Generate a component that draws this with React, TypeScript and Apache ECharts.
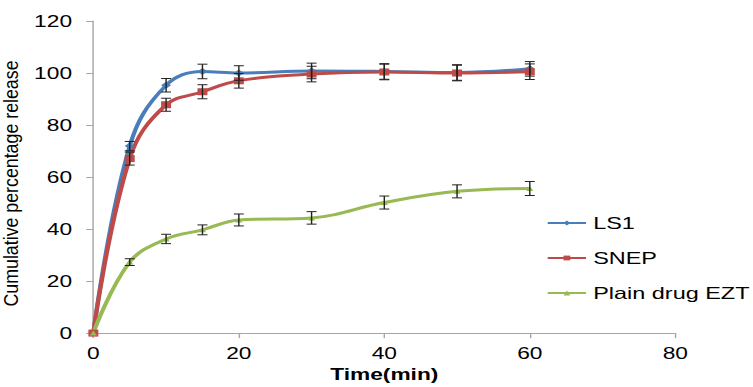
import React, { useEffect, useRef } from "react";
import * as echarts from "echarts";

const times = [0, 5, 10, 15, 20, 30, 40, 50, 60];
const ls1 = [0, 71.9, 95.3, 100.6, 100.0, 100.8, 100.6, 100.2, 101.6];
const ls1Err = [0, 1.8, 2.6, 2.8, 2.8, 3.0, 3.0, 3.0, 2.8];
const snep = [0, 67.1, 87.8, 92.8, 97.0, 99.6, 100.4, 100.0, 100.5];
const snepErr = [0, 2.5, 2.5, 2.7, 2.8, 3.0, 3.0, 3.0, 3.0];
const plain = [0, 27.3, 36.2, 39.7, 43.5, 44.3, 50.2, 54.5, 55.6];
const plainErr = [0, 1.3, 1.8, 1.9, 2.3, 2.4, 2.5, 2.5, 2.7];
const seriesNames = ["LS1", "SNEP", "Plain drug EZT"];
const xTicks = [0, 20, 40, 60, 80];
const yTicks = [0, 20, 40, 60, 80, 100, 120];

const INNER_W = 530;
const H = 387;
const STRETCH = 753 / INNER_W;
const FONT = "'Liberation Sans', Arial, sans-serif";

function errData(vals: number[], errs: number[]) {
  return times.map((t, i) => [t, vals[i] - errs[i], vals[i] + errs[i]]);
}

function errSeries(vals: number[], errs: number[]) {
  return {
    type: "custom",
    data: errData(vals, errs),
    z: 5,
    silent: true,
    renderItem: (params: any, api: any) => {
      const x = api.value(0);
      const lo = api.coord([x, api.value(1)]);
      const hi = api.coord([x, api.value(2)]);
      if (api.value(2) - api.value(1) <= 0) return { type: "group", children: [] };
      const hw = 3.5;
      const st = { stroke: "#222", lineWidth: 1 };
      return {
        type: "group",
        children: [
          { type: "line", shape: { x1: lo[0], y1: lo[1], x2: hi[0], y2: hi[1] }, style: st },
          { type: "line", shape: { x1: lo[0] - hw, y1: lo[1], x2: lo[0] + hw, y2: lo[1] }, style: st },
          { type: "line", shape: { x1: hi[0] - hw, y1: hi[1], x2: hi[0] + hw, y2: hi[1] }, style: st },
        ],
      };
    },
  };
}

export default function App() {
  const ref = useRef<HTMLDivElement>(null);
  useEffect(() => {
    if (!ref.current) return;
    const chart = echarts.init(ref.current, undefined, { renderer: "svg" });
    const colors = ["#4A7EBB", "#BE4B48", "#98B954"];
    const symbols = ["diamond", "rect", "triangle"];
    const sizes = [7, 7, 5];
    const vals = [ls1, snep, plain];
    const errs = [ls1Err, snepErr, plainErr];
    chart.setOption({
      animation: false,
      textStyle: { fontFamily: FONT },
      grid: { left: 65.7, right: INNER_W - 475.3, top: 21, bottom: H - 334.7, containLabel: false },
      legend: {
        orient: "vertical",
        left: 384.5,
        top: 214.5,
        padding: 0,
        itemWidth: 27,
        itemHeight: 6,
        itemGap: 18,
        data: seriesNames,
        textStyle: { fontSize: 16.5, color: "#000", fontFamily: FONT },
      },
      xAxis: {
        type: "value",
        min: xTicks[0],
        max: xTicks[xTicks.length - 1],
        interval: 20,
        name: "Time(min)",
        nameLocation: "middle",
        nameGap: 31,
        nameTextStyle: { fontSize: 16, fontWeight: "bold", color: "#000", fontFamily: FONT },
        axisLine: { lineStyle: { color: "#A6A6A6", width: 1 } },
        axisTick: { show: true, length: 5, lineStyle: { color: "#A6A6A6" } },
        axisLabel: { fontSize: 16, color: "#000", margin: 12, fontFamily: FONT },
        splitLine: { show: false },
      },
      yAxis: {
        type: "value",
        min: yTicks[0],
        max: yTicks[yTicks.length - 1],
        interval: 20,
        axisLine: { show: true, lineStyle: { color: "#A6A6A6", width: 1 } },
        axisTick: { show: true, length: 5, lineStyle: { color: "#A6A6A6" } },
        axisLabel: { fontSize: 16, color: "#000", margin: 15, fontFamily: FONT },
        splitLine: { show: false },
      },
      graphic: [
        {
          type: "text",
          x: 7.9,
          y: 183.5,
          rotation: Math.PI / 2,
          scaleX: 1.27,
          style: {
            text: "Cumulative percentage release",
            fontSize: 14,
            fontFamily: FONT,
            fill: "#000",
            align: "center",
            verticalAlign: "middle",
          },
        },
      ],
      series: [
        ...vals.map((v, i) => ({
          name: seriesNames[i],
          type: "line",
          smooth: 0.4,
          data: times.map((t, j) => [t, v[j]]),
          symbol: symbols[i],
          symbolSize: sizes[i],
          showSymbol: true,
          lineStyle: { color: colors[i], width: 3 },
          itemStyle: { color: colors[i] },
          z: 3,
        })),
        ...vals.map((v, i) => errSeries(v, errs[i])),
      ],
    });
    return () => chart.dispose();
  }, []);
  return (
    <div style={{ position: "absolute", left: 0, top: 0, width: 753, height: H, overflow: "hidden", background: "#fff" }}>
      <div
        ref={ref}
        style={{ width: INNER_W, height: H, transform: `scaleX(${STRETCH})`, transformOrigin: "0 0" }}
      />
    </div>
  );
}
